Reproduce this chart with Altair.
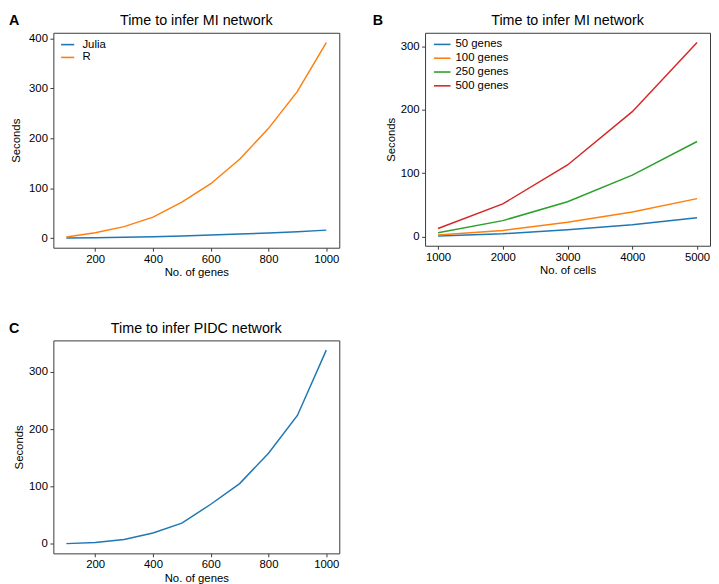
import altair as alt
import pandas as pd

FONT = "Liberation Sans"

# Panel A: MI network, Julia vs R
genes_a = [100, 200, 300, 400, 500, 600, 700, 800, 900, 1000]
julia_a = [0.3, 0.8, 1.5, 2.6, 4.0, 6.0, 8.0, 10.0, 12.6, 16.0]
r_a = [2.0, 10.6, 23.0, 42.0, 72.0, 109.0, 158.0, 220.0, 294.0, 392.0]
series_a = ["Julia", "R"]

# Panel B: MI network vs number of cells
cells_b = [1000, 2000, 3000, 4000, 5000]
g50_b = [1.0, 4.6, 11.0, 19.0, 30.0]
g100_b = [2.6, 9.8, 22.8, 38.8, 60.0]
g250_b = [6.2, 25.3, 55.0, 97.0, 150.0]
g500_b = [13.0, 51.7, 113.0, 197.0, 306.0]
series_b = ["50 genes", "100 genes", "250 genes", "500 genes"]

# Panel C: PIDC network
genes_c = [100, 200, 300, 400, 500, 600, 700, 800, 900, 1000]
pidc_c = [0.3, 2.3, 7.5, 19.0, 36.0, 69.0, 105.0, 158.0, 224.0, 338.0]

titles = ["Time to infer MI network", "Time to infer MI network",
          "Time to infer PIDC network"]
letters = ["A", "B", "C"]

tab10 = ["#1f77b4", "#ff7f0e", "#2ca02c", "#d62728"]

df_a = pd.DataFrame(
    [{"x": g, "y": v, "s": "Julia"} for g, v in zip(genes_a, julia_a)]
    + [{"x": g, "y": v, "s": "R"} for g, v in zip(genes_a, r_a)]
)
rows_b = []
for name, vals in zip(series_b, [g50_b, g100_b, g250_b, g500_b]):
    rows_b += [{"x": c, "y": v, "s": name} for c, v in zip(cells_b, vals)]
df_b = pd.DataFrame(rows_b)
df_c = pd.DataFrame({"x": genes_c, "y": pidc_c})


def heading(letter, title, width, letter_dx):
    base = alt.Chart(pd.DataFrame({"l": [letter], "t": [title]}))
    lt = base.mark_text(
        align="left", baseline="top", fontSize=14.5, fontWeight="bold",
        font=FONT, color="black"
    ).encode(text="l:N", x=alt.value(letter_dx), y=alt.value(-19))
    tt = base.mark_text(
        align="center", baseline="alphabetic", fontSize=14.5,
        font=FONT, color="black"
    ).encode(text="t:N", x=alt.value(width / 2), y=alt.value(-8))
    return lt + tt


def xenc(title, dom, ticks):
    return alt.X("x:Q", title=title,
                 scale=alt.Scale(domain=dom, nice=False, zero=False),
                 axis=alt.Axis(values=ticks, format="d"))


def yenc(dom, ticks, tpad):
    return alt.Y("y:Q", title="Seconds",
                 scale=alt.Scale(domain=dom, nice=False, zero=False),
                 axis=alt.Axis(values=ticks, format="d", titlePadding=tpad))


leg_common = dict(orient="none", title=None, symbolStrokeWidth=1.6,
                  labelFont=FONT, labelFontSize=11.5, labelColor="black",
                  padding=0, rowPadding=0)

line_a = alt.Chart(df_a).mark_line(strokeWidth=1.5).encode(
    x=xenc("No. of genes", [55, 1045], [200, 400, 600, 800, 1000]),
    y=yenc([-19.3, 411.6], [0, 100, 200, 300, 400], 7.5),
    color=alt.Color("s:N", scale=alt.Scale(domain=series_a, range=tab10[:2]),
                    sort=series_a,
                    legend=alt.Legend(symbolType="stroke", symbolSize=177,
                                      labelOffset=7.5, legendX=7, legendY=4.5,
                                      **leg_common)),
)
panel_a = alt.layer(line_a, heading(letters[0], titles[0], 290, -45)).properties(
    width=290, height=218)

line_b = alt.Chart(df_b).mark_line(strokeWidth=1.5).encode(
    x=xenc("No. of cells", [800, 5200], [1000, 2000, 3000, 4000, 5000]),
    y=yenc([-14.25, 321.25], [0, 100, 200, 300], 4.2),
    color=alt.Color("s:N", scale=alt.Scale(domain=series_b, range=tab10),
                    sort=series_b,
                    legend=alt.Legend(symbolType="M-1.2,0H1.2", symbolSize=196,
                                      labelOffset=5.5, legendX=9.4, legendY=3.8,
                                      **leg_common)),
)
panel_b = alt.layer(line_b, heading(letters[1], titles[1], 289, -53)).properties(
    width=289, height=216)

line_c = alt.Chart(df_c).mark_line(strokeWidth=1.5, color=tab10[0]).encode(
    x=xenc("No. of genes", [55, 1045], [200, 400, 600, 800, 1000]),
    y=yenc([-16.7, 354.9], [0, 100, 200, 300], 4.3),
)
panel_c = alt.layer(line_c, heading(letters[2], titles[2], 290, -45)).properties(
    width=290, height=216)

top = alt.hconcat(panel_a, panel_b, spacing=32).resolve_scale(color="independent")
chart = alt.vconcat(top, panel_c, spacing=41).resolve_scale(
    color="independent"
).properties(
    padding={"left": 0, "top": 0, "right": 0, "bottom": 0}
).configure_view(
    stroke="#3a3a3a", strokeWidth=1
).configure_axis(
    grid=False, domain=False, labelFont=FONT, labelFontSize=11.5,
    labelColor="black", tickColor="#3a3a3a", tickSize=3.5, tickWidth=1,
    labelPadding=2.3, titleFont=FONT, titleFontSize=11.5,
    titleFontWeight="normal", titleColor="black"
).configure_axisX(
    titlePadding=2
).configure_axisY(
    labelPadding=2.5
)

chart.save("out.html", embed_options={"renderer": "svg", "actions": False})
